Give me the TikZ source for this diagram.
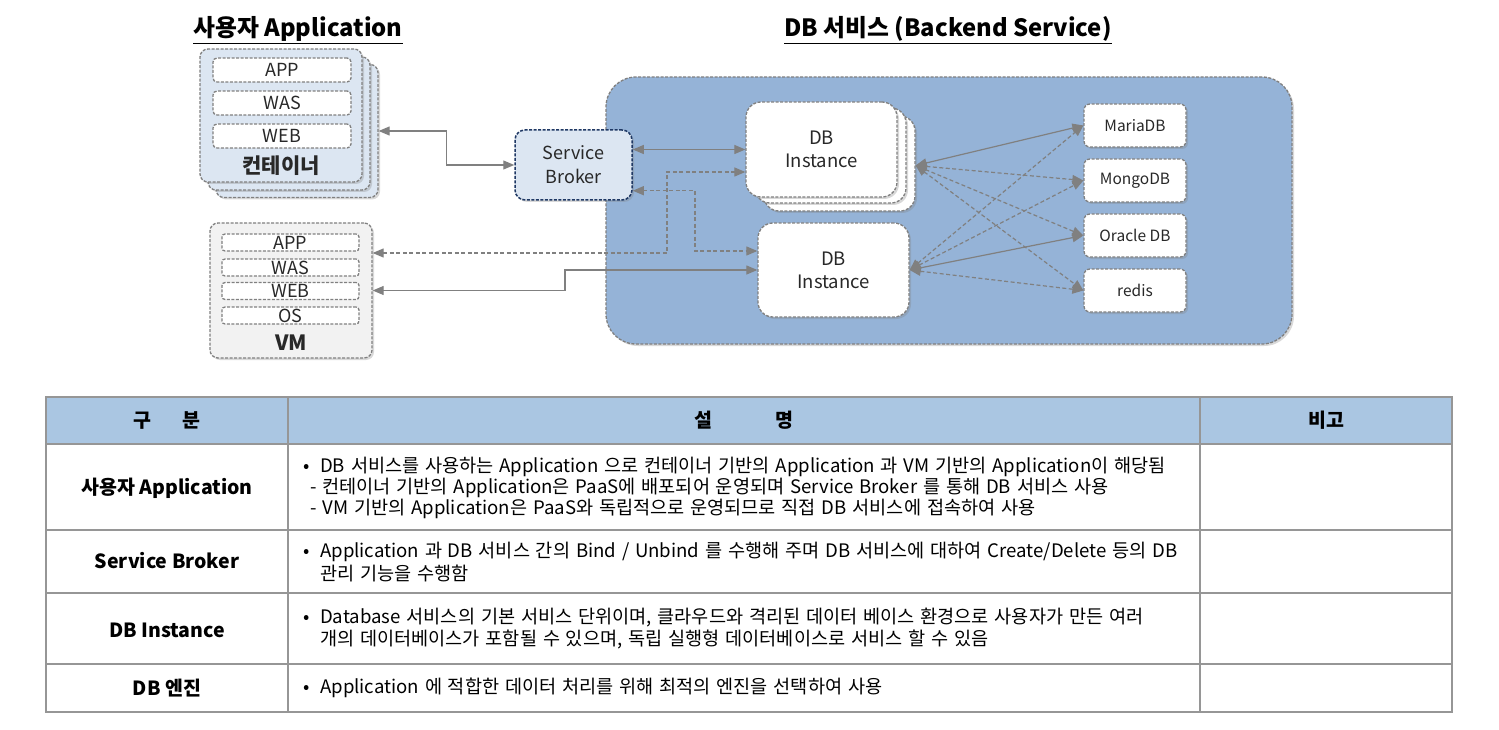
\documentclass[tikz,border=0pt]{standalone}
\usepackage{fontspec}
\setmainfont{Noto Sans CJK KR}
\newfontfamily\tblfont[WordSpace=1.4]{Noto Sans CJK KR}
\usetikzlibrary{arrows.meta,shadows}
\definecolor{edge}{RGB}{128,128,128}
\definecolor{lblue}{RGB}{220,230,242}
\definecolor{bigblue}{RGB}{149,179,215}
\definecolor{navy}{RGB}{31,56,100}
\definecolor{hdr}{RGB}{170,198,226}
\definecolor{grid}{RGB}{150,150,150}
\definecolor{txt}{RGB}{40,40,40}
\newcommand{\bul}{\makebox[18pt][l]{\hspace{1pt}•}}
\begin{document}
\begin{tikzpicture}[x=1pt,y=-1pt,
  shad/.style={drop shadow={opacity=0.3,shadow xshift=2pt,shadow yshift=-2pt}},
  dbox/.style={draw=edge,line width=1.3pt,dash pattern=on 3pt off 1.5pt,inner sep=0pt,text=txt},
  outerbox/.style={dbox,fill=lblue,rounded corners=8pt,minimum width=162pt,minimum height=133pt,shad},
  layer/.style={dbox,fill=white,rounded corners=4pt,minimum width=138pt,minimum height=24pt,font=\fontsize{18}{18}\selectfont},
  vlayer/.style={dbox,fill=white,rounded corners=3pt,minimum width=137pt,minimum height=17pt,font=\fontsize{18}{18}\selectfont},
  inst/.style={dbox,fill=white,rounded corners=15pt,minimum width=151pt,minimum height=95pt,align=center,font=\fontsize{18.5}{23}\selectfont,shad},
  eng/.style={dbox,fill=white,rounded corners=6pt,minimum width=102pt,minimum height=43pt,font=\fontsize{15.5}{15.5}\selectfont,shad},
  conn/.style={draw=edge,line width=1.2pt,{Triangle[length=11pt,width=9pt]}-{Triangle[length=11pt,width=9pt]}},
  dconn/.style={conn,dash pattern=on 4pt off 2.5pt},
  ttl/.style={font=\fontsize{23.8}{24}\selectfont\bfseries,text=black},
  blab/.style={font=\fontsize{21}{21}\selectfont\bfseries,text=txt},
  cellh/.style={font=\fontsize{19.5}{19.5}\selectfont\bfseries},
  cellt/.style={anchor=west,inner sep=0pt,font=\tblfont\fontsize{18.6}{18.6}\selectfont},
]
\useasboundingbox (0,0) rectangle (1499,730);

% titles
\node[ttl] (t1) at (298,30) {\underline{사용자 Application}};
\node[ttl] (t2) at (948,30) {\underline{DB 서비스 (Backend Service)}};

% big DB service box
\node[dbox,fill=bigblue,rounded corners=30pt,minimum width=686pt,minimum height=267pt,shad] (big) at (949,210.5) {};

% container stack
\node[outerbox] (c3) at (297,131) {};
\node[outerbox] (c2) at (289,123.5) {};
\node[outerbox] (c1) at (281,115.5) {};
\node[layer] (capp) at (282,70) {APP};
\node[layer] (cwas) at (282,103) {WAS};
\node[layer] (cweb) at (282,136) {WEB};
\node[blab] (ctn) at (281,166) {컨테이너};

% VM
\node[dbox,fill=black!5,rounded corners=8pt,minimum width=162pt,minimum height=135pt,shad] (vm) at (291,290.5) {};
\node[vlayer] (vapp) at (290.5,242.5) {APP};
\node[vlayer] (vwas) at (290.5,267.5) {WAS};
\node[vlayer] (vweb) at (290.5,291) {WEB};
\node[vlayer] (vos) at (290.5,315.5) {OS};
\node[blab] (vml) at (291,343) {VM};

% service broker
\node[draw=navy,line width=1.5pt,dash pattern=on 3pt off 1.5pt,fill=lblue,rounded corners=10pt,minimum width=117pt,minimum height=70pt,align=center,font=\fontsize{18}{24}\selectfont,text=txt,shad] (sb) at (573.5,165) {Service\\Broker};

% DB instances
\node[inst] (d3) at (839.5,163.5) {};
\node[inst] (d2s) at (830.5,155.5) {};
\node[inst] (d1) at (821.5,149.5) {DB\\Instance};
\node[inst,minimum height=94pt] (d2) at (833.5,270) {DB\\Instance};

% engines
\node[eng] (ma) at (1135,125.5) {MariaDB};
\node[eng] (mo) at (1135,180.5) {MongoDB};
\node[eng] (or) at (1135,235.5) {Oracle DB};
\node[eng] (re) at (1135,290.5) {redis};

% connectors
\draw[conn] (c3.east) -- ++(68,0) |- (sb.west);
\draw[conn] (sb.east |- d1.west) -- (d1.west);
\draw[dconn] (vm.east |- 0,253) -| (667,172) -- (d1.west |- 0,172);
\draw[dconn] (sb.east |- 0,190.7) -| (695,251) -- (d2.west |- 0,251);
\draw[conn] (vm.east) -- (565,290.5) |- (d2.west);

\coordinate (p1) at ([yshift=-2pt]d3.east);
\coordinate (p2) at (d2.east);
\draw[conn] (p1) -- (ma.west);
\draw[dconn] (p1) -- (mo.west);
\draw[dconn] (p1) -- (or.west);
\draw[dconn] (p1) -- (re.west);
\draw[dconn] (p2) -- (ma.west);
\draw[dconn] (p2) -- (mo.west);
\draw[conn] (p2) -- (or.west);
\draw[dconn] (p2) -- (re.west);

% table
\fill[hdr] (46,397) rectangle (1452,444);
\draw[grid,line width=2pt] (46,397) rectangle (1452,712);
\foreach \yy in {444,530,593,664} \draw[grid,line width=2pt] (46,\yy) -- (1452,\yy);
\foreach \xx in {288,1200} \draw[grid,line width=2pt] (\xx,397) -- (\xx,712);

\node[cellh] (h1) at (167,420) {구\hspace{1.6em}분};
\node[cellh] (h2) at (744,420) {설\hspace{3.2em}명};
\node[cellh] (h3) at (1326,420) {비고};

\node[cellh] (r1) at (167,488) {사용자 Application};
\node[cellh] (r2) at (167,561) {Service Broker};
\node[cellh] (r3) at (167,630) {DB Instance};
\node[cellh] (r4) at (167,688) {DB 엔진};

\node[cellt] (a1) at (302,467) {\bul DB 서비스를 사용하는 Application 으로 컨테이너 기반의 Application 과 VM 기반의 Application이 해당됨};
\node[cellt] (a2) at (310,488) {- 컨테이너 기반의 Application은 PaaS에 배포되어 운영되며 Service Broker 를 통해 DB 서비스 사용};
\node[cellt] (a3) at (310,509) {- VM 기반의 Application은 PaaS와 독립적으로 운영되므로 직접 DB 서비스에 접속하여 사용};
\node[cellt] (b1) at (302,552) {\bul Application 과 DB 서비스 간의 Bind / Unbind 를 수행해 주며 DB 서비스에 대하여 Create/Delete 등의 DB};
\node[cellt] (b2) at (320,573) {관리 기능을 수행함};
\node[cellt] (e1) at (302,618) {\bul Database 서비스의 기본 서비스 단위이며, 클라우드와 격리된 데이터 베이스 환경으로 사용자가 만든 여러};
\node[cellt] (e2) at (320,639) {개의 데이터베이스가 포함될 수 있으며, 독립 실행형 데이터베이스로 서비스 할 수 있음};
\node[cellt] (g1) at (302,688) {\bul Application 에 적합한 데이터 처리를 위해 최적의 엔진을 선택하여 사용};
\end{tikzpicture}
\end{document}
